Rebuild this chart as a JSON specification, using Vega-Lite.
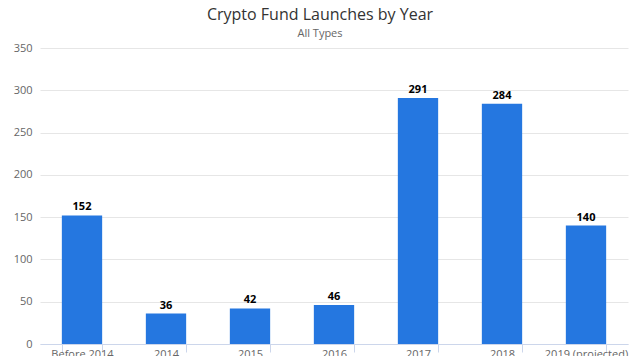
{
  "$schema": "https://vega.github.io/schema/vega-lite/v6.json",
  "autosize": {"type": "none"},
  "width": 588,
  "height": 296,
  "padding": {"left": 40, "top": 48, "right": 12, "bottom": 12},
  "background": "white",
  "title": {
    "text": "Crypto Fund Launches by Year",
    "subtitle": "All Types",
    "anchor": "middle",
    "dx": -14,
    "offset": 3,
    "font": "Open Sans",
    "fontSize": 16,
    "fontWeight": "normal",
    "color": "#333333",
    "subtitleFont": "Open Sans",
    "subtitleFontSize": 11,
    "subtitleColor": "#666666",
    "subtitlePadding": 5
  },
  "data": {
    "values": [
      {"year": "Before 2014", "count": 152},
      {"year": "2014", "count": 36},
      {"year": "2015", "count": 42},
      {"year": "2016", "count": 46},
      {"year": "2017", "count": 291},
      {"year": "2018", "count": 284},
      {"year": "2019 (projected)", "count": 140}
    ]
  },
  "encoding": {
    "x": {
      "field": "year",
      "type": "nominal",
      "sort": null,
      "scale": {"paddingInner": 0.52, "paddingOuter": 0.26},
      "axis": {
        "title": null,
        "labelAngle": 0,
        "labelFont": "Open Sans",
        "labelFontSize": 11,
        "labelColor": "#666666",
        "labelPadding": -4,
        "domainColor": "#ccd6eb",
        "tickColor": "#ccd6eb",
        "tickBand": "extent",
        "tickSize": 8,
        "grid": false
      }
    },
    "y": {
      "field": "count",
      "type": "quantitative",
      "scale": {"domain": [0, 350], "nice": false},
      "axis": {
        "title": null,
        "values": [0, 50, 100, 150, 200, 250, 300, 350],
        "labelFont": "Open Sans",
        "labelFontSize": 11,
        "labelColor": "#666666",
        "labelPadding": 8,
        "domain": false,
        "ticks": false,
        "gridColor": "#e6e6e6"
      }
    }
  },
  "layer": [
    {"mark": {"type": "bar", "color": "#2577e0"}},
    {
      "mark": {"type": "text", "dy": -8, "font": "Open Sans", "fontSize": 11, "fontWeight": "bold", "color": "#000000"},
      "encoding": {"text": {"field": "count", "type": "quantitative"}}
    }
  ],
  "config": {"view": {"stroke": null}}
}
